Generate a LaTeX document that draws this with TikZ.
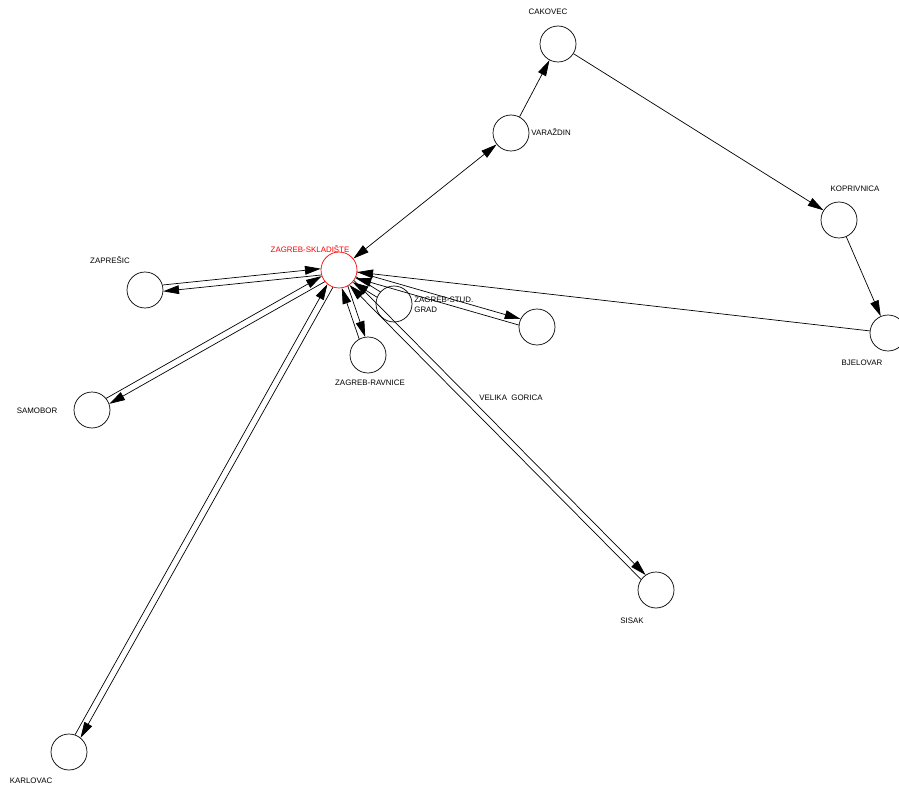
\documentclass[tikz,border=0pt]{standalone}
\usepackage{fontspec}
\setmainfont{Liberation Sans}
\usetikzlibrary{arrows.meta,calc}
% two parallel links, one each way
\newcommand{\pairlink}[2]{%
  \draw[arr,shorten <=0.36cm,shorten >=0.36cm] ($(#1.center)!1.8pt!90:(#2.center)$) -- ($(#2.center)!1.8pt!-90:(#1.center)$);
  \draw[arr,shorten <=0.36cm,shorten >=0.36cm] ($(#2.center)!1.8pt!90:(#1.center)$) -- ($(#1.center)!1.8pt!-90:(#2.center)$);}
\begin{document}
\begin{tikzpicture}[x=0.02cm,y=-0.02cm,
    city/.style={draw,circle,minimum size=0.72cm,inner sep=0pt},
    hub/.style={city,draw=red},
    lbl/.style={font=\fontsize{4.5}{5.5}\selectfont,inner sep=0pt},
    arr/.style={-{Triangle[length=9pt,width=5pt]}}]
  \useasboundingbox (0,0) rectangle (899,787);
  \node[hub] (zs) at (339,270) {};
  \node[city] (zap) at (145,290) {};\node[city] (sam) at (92,410) {};
  \node[city] (kar) at (69,752) {};\node[city] (rav) at (368,355) {};
  \node[city] (stud) at (394,304) {};\node[city] (vg) at (537,327) {};
  \node[city] (sis) at (656,590) {};\node[city] (var) at (511,133) {};
  \node[city] (cak) at (558,44) {};\node[city] (kop) at (839,220) {};
  \node[city] (bje) at (888,333) {};
  % labels
  \node[lbl,red] (zsl) at (310,249) {ZAGREB-SKLADIŠTE};
  \node[lbl] (zapl) at (110,260) {ZAPREŠIC};
  \node[lbl] (saml) at (37,411) {SAMOBOR};
  \node[lbl] (karl) at (31,781) {KARLOVAC};
  \node[lbl] (ravl) at (370,383) {ZAGREB-RAVNICE};
  \node[lbl,anchor=west,align=left] (studl) at (414,305) {ZAGREB-STUD.\\GRAD};
  \node[lbl,anchor=west] (vgl) at (479,398) {VELIKA\ \ GORICA};
  \node[lbl] (sisl) at (632,621) {SISAK};
  \node[lbl,anchor=west] (varl) at (531,132) {VARAŽDIN};
  \node[lbl] (cakl) at (548,12) {CAKOVEC};
  \node[lbl] (kopl) at (855,189) {KOPRIVNICA};
  \node[lbl] (bjel) at (862,363) {BJELOVAR};
  % links
  \pairlink{zs}{zap}\pairlink{zs}{sam}\pairlink{zs}{kar}
  \pairlink{zs}{rav}\pairlink{zs}{vg}\pairlink{zs}{sis}
  \draw[arr,shorten <=0.36cm,shorten >=0.36cm] ($(stud.center)!1.8pt!90:(zs.center)$) -- ($(zs.center)!1.8pt!-90:(stud.center)$);
  \draw[shorten <=0.36cm,shorten >=0.36cm] ($(zs.center)!1.8pt!90:(stud.center)$) -- ($(stud.center)!1.8pt!-90:(zs.center)$);
  \draw[{Triangle[length=9pt,width=5pt]}-{Triangle[length=9pt,width=5pt]}] (zs) -- (var);
  \draw[arr] (var) -- (cak);\draw[arr] (cak) -- (kop);
  \draw[arr] (kop) -- (bje);\draw[arr] (bje) -- (zs);
\end{tikzpicture}
\end{document}
